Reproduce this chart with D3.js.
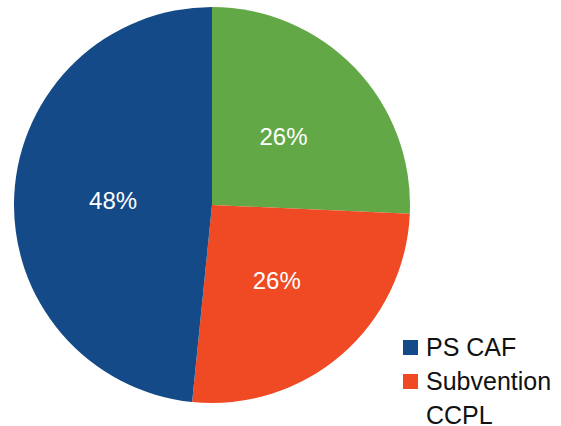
<!DOCTYPE html>
<html><head><meta charset="utf-8">
<script src="https://cdn.jsdelivr.net/npm/d3@7"></script>
<style>body{margin:0;background:#fff}svg{display:block}</style>
</head><body>
<svg id="c" width="561" height="426"></svg>
<script>
const categories = ["Autre", "Subvention CCPL", "PS CAF"];
const values = [25.7, 25.9, 48.4];
const colors = ["#63A846", "#EF4A24", "#144A87"];
const legendItems = [{name:"PS CAF", lines:["PS CAF"], color:"#144A87"}, {name:"Subvention CCPL", lines:["Subvention","CCPL"], color:"#EF4A24"}];

const svg = d3.select("#c");
const cx = 212, cy = 205, r = 198;
const g = svg.append("g").attr("transform", `translate(${cx},${cy})`);
const pie = d3.pie().sort(null).value(d => d)(values);
const arc = d3.arc().innerRadius(0).outerRadius(r);
const labelArc = d3.arc().innerRadius(r*0.5).outerRadius(r*0.5);
g.selectAll("path").data(pie).join("path")
  .attr("d", arc).attr("fill", (d,i) => colors[i]);
const total = d3.sum(values);
g.selectAll("text").data(pie).join("text")
  .attr("transform", d => `translate(${labelArc.centroid(d)})`)
  .attr("text-anchor", "middle").attr("dy", "0.37em")
  .attr("fill", "#fff").attr("font-family", "Liberation Sans, Arial, sans-serif")
  .attr("font-size", 24)
  .text(d => Math.round(d.data / total * 100) + "%");

const lg = svg.append("g").attr("font-family", "Liberation Sans, Arial, sans-serif").attr("font-size", 25);
const ys = [356, 390];
legendItems.forEach((it, i) => {
  lg.append("rect").attr("x", 403).attr("y", ys[i]-16).attr("width", 15).attr("height", 15).attr("fill", it.color);
  const t = lg.append("text").attr("x", 426).attr("y", ys[i]).attr("fill", "#111");
  it.lines.forEach((l, j) => t.append("tspan").attr("x", 426).attr("dy", j ? 34 : 0).text(l));
});
</script>
</body></html>
